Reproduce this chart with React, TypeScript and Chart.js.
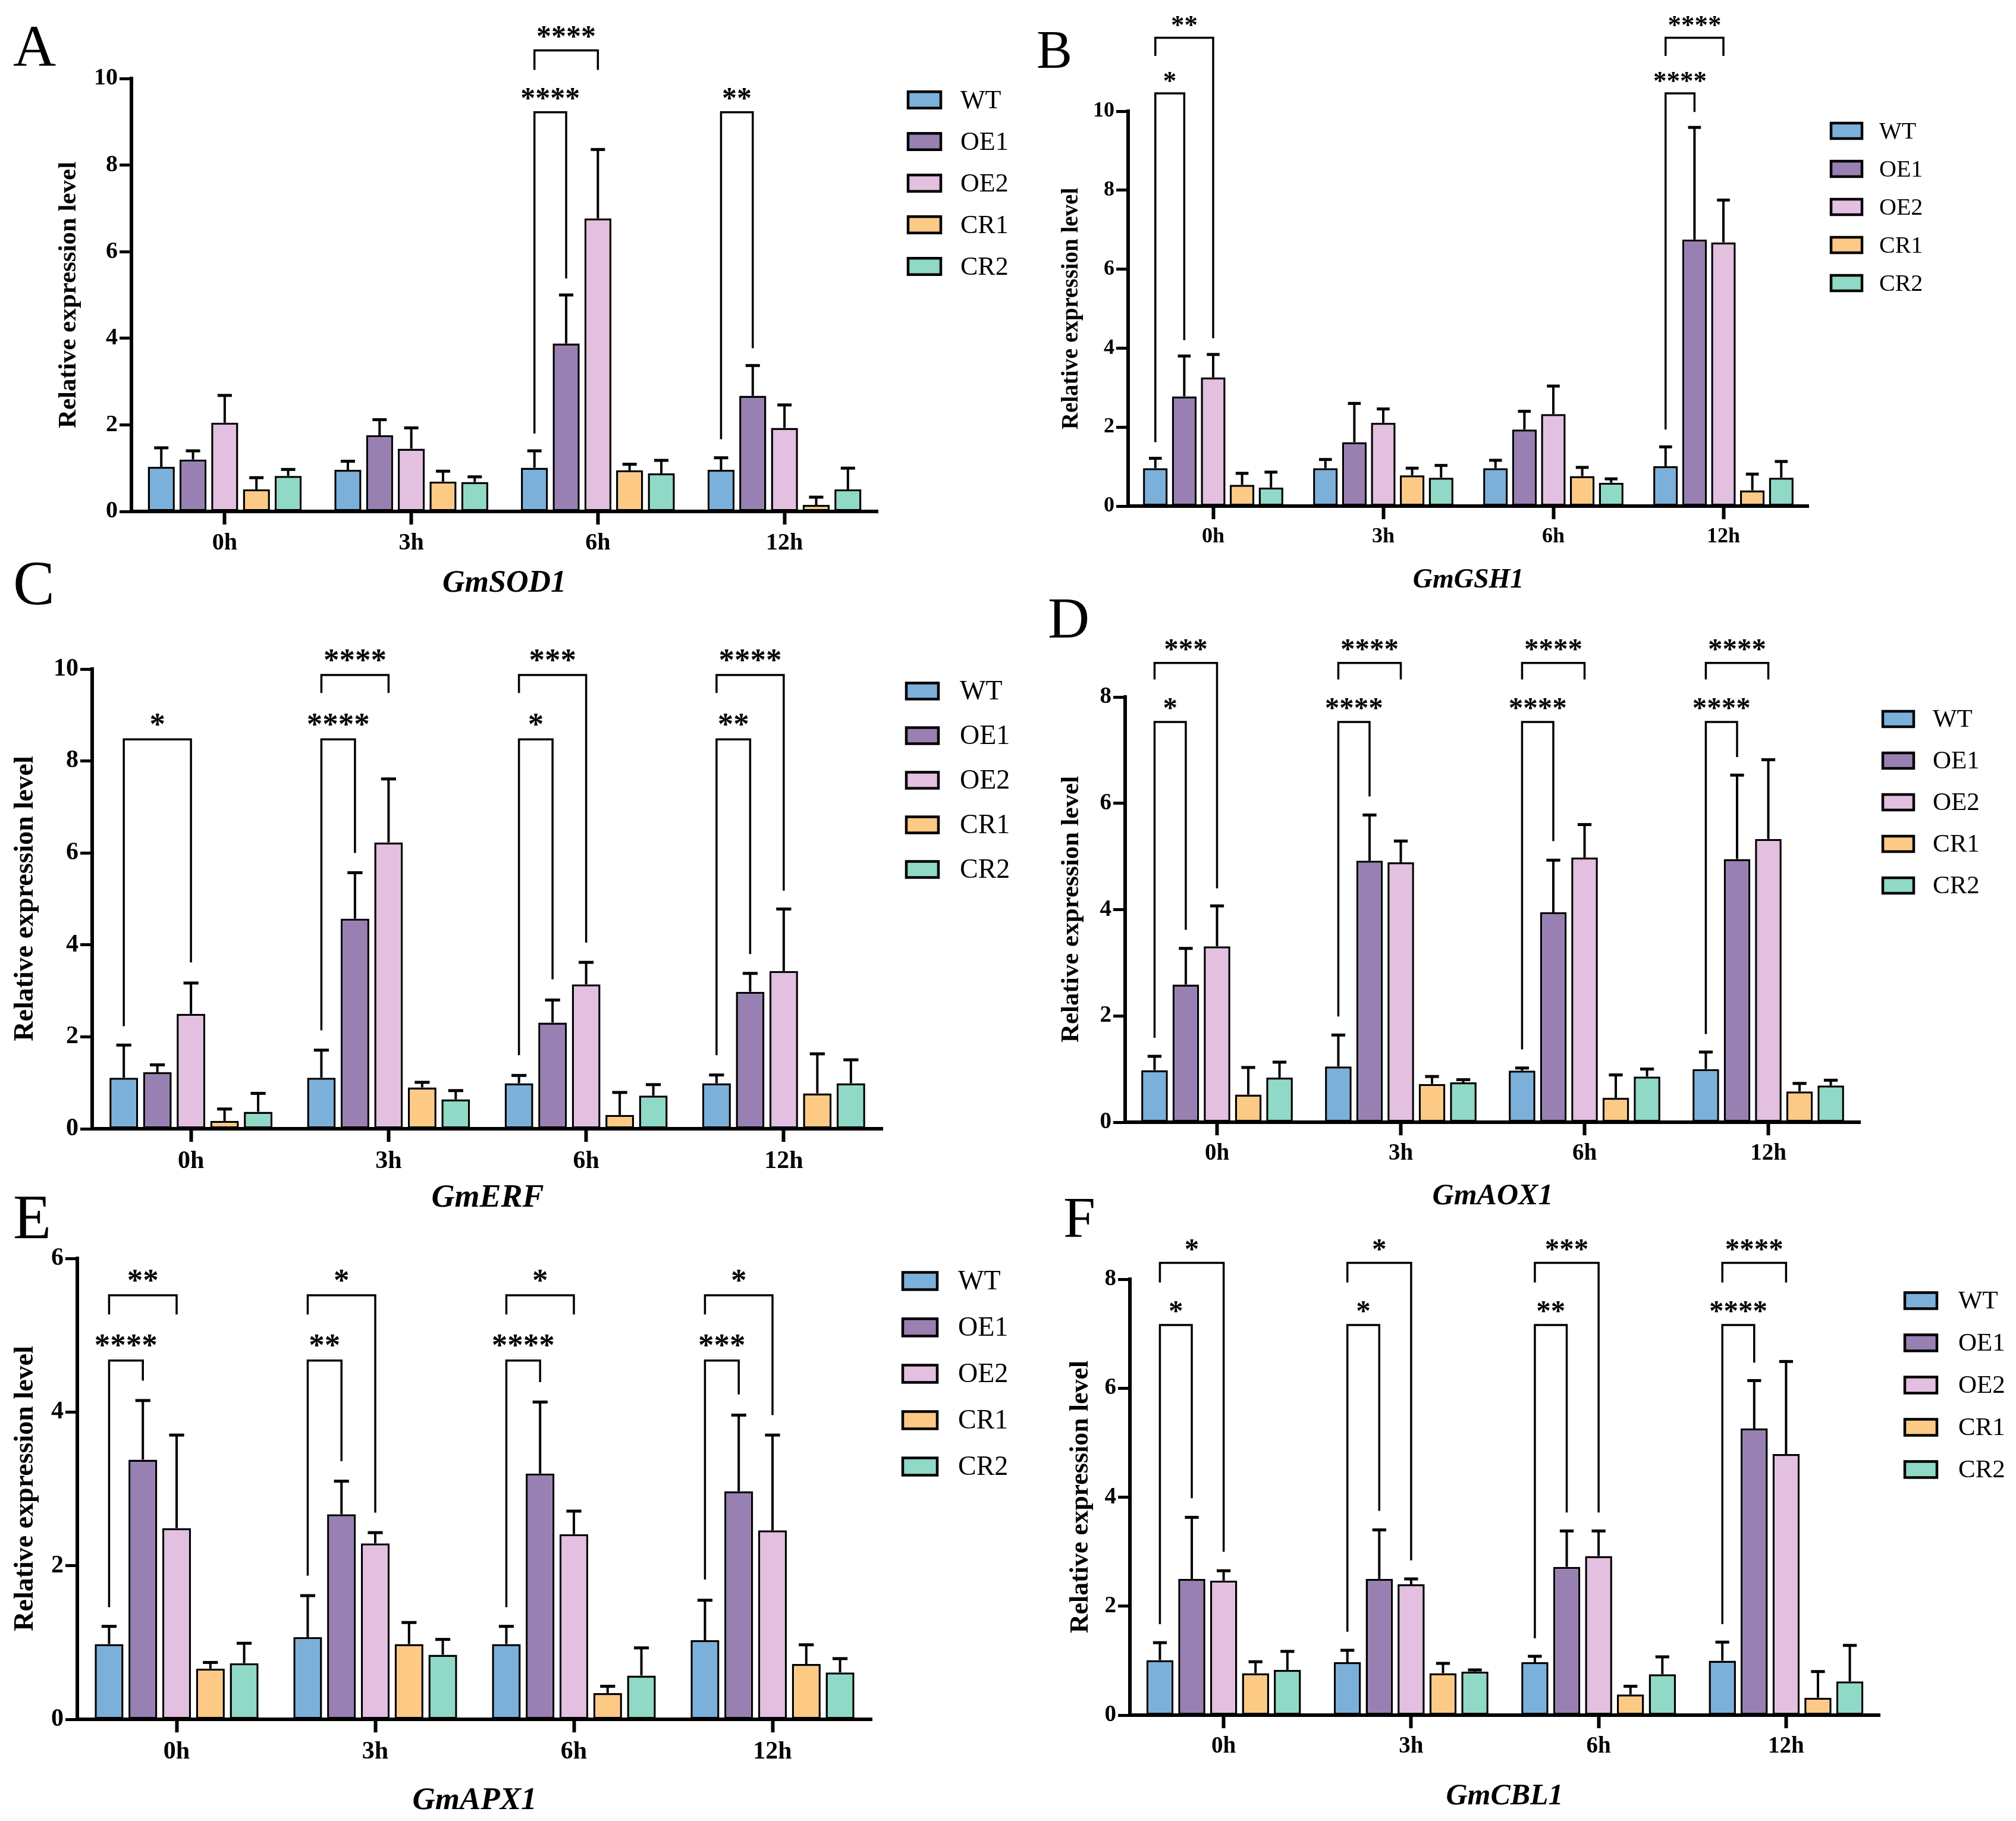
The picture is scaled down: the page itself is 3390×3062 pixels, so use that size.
import { useEffect, useRef } from 'react';
import { Chart, registerables } from 'chart.js';

Chart.register(...registerables);

const TIMES = ['0h', '3h', '6h', '12h'];
const LINES = ['WT', 'OE1', 'OE2', 'CR1', 'CR2'];
const COLORS = ['#7BB0DB', '#9880B3', '#E3BFE0', '#FDCA86', '#8FD9C6'];

// rows: WT, OE1, OE2, CR1, CR2 ; columns: 0h, 3h, 6h, 12h
const SOD1_MEAN = [
  [1.03, 0.96, 1.01, 0.96],
  [1.2, 1.76, 3.88, 2.67],
  [2.05, 1.45, 6.77, 1.93],
  [0.51, 0.69, 0.95, 0.15],
  [0.82, 0.68, 0.88, 0.51],
];
const SOD1_SD = [
  [0.44, 0.2, 0.39, 0.28],
  [0.2, 0.36, 1.12, 0.7],
  [0.63, 0.48, 1.59, 0.53],
  [0.27, 0.24, 0.14, 0.18],
  [0.15, 0.12, 0.3, 0.49],
];
// [time index, series a, series b, bracket level, left leg end, right leg end, label]
const SOD1_SIG = [
  [2, 0, 1, 9.22, 1.8, 5.38, '****'],
  [2, 0, 2, 10.65, 10.2, 10.2, '****'],
  [3, 0, 1, 9.22, 1.67, 3.77, '**'],
];

const GSH1_MEAN = [
  [0.96, 0.96, 0.96, 1.01],
  [2.78, 1.62, 1.94, 6.75],
  [3.26, 2.11, 2.33, 6.68],
  [0.54, 0.78, 0.76, 0.4],
  [0.47, 0.72, 0.59, 0.72],
];
const GSH1_SD = [
  [0.25, 0.22, 0.2, 0.49],
  [1.02, 0.98, 0.46, 2.84],
  [0.58, 0.35, 0.71, 1.07],
  [0.29, 0.18, 0.22, 0.41],
  [0.39, 0.31, 0.1, 0.41],
];
const GSH1_SIG = [
  [0, 0, 1, 10.45, 1.62, 4.2, '*'],
  [0, 0, 2, 11.86, 11.4, 4.25, '**'],
  [3, 0, 1, 10.45, 1.94, 9.98, '****'],
  [3, 0, 2, 11.86, 11.4, 11.4, '****'],
];

const ERF_MEAN = [
  [1.11, 1.11, 0.99, 0.99],
  [1.23, 4.57, 2.31, 2.98],
  [2.5, 6.23, 3.14, 3.43],
  [0.17, 0.9, 0.3, 0.77],
  [0.37, 0.64, 0.72, 0.99],
];
const ERF_SD = [
  [0.71, 0.6, 0.17, 0.18],
  [0.16, 1.0, 0.49, 0.4],
  [0.67, 1.38, 0.48, 1.35],
  [0.26, 0.11, 0.49, 0.86],
  [0.4, 0.19, 0.24, 0.51],
];
const ERF_SIG = [
  [0, 0, 2, 8.47, 2.23, 3.62, '*'],
  [1, 0, 1, 8.47, 2.14, 6.0, '****'],
  [1, 0, 2, 9.87, 9.48, 9.48, '****'],
  [2, 0, 1, 8.47, 1.6, 3.25, '*'],
  [2, 0, 2, 9.87, 9.48, 4.05, '***'],
  [3, 0, 1, 8.47, 1.6, 3.8, '**'],
  [3, 0, 2, 9.87, 9.48, 5.18, '****'],
];

const AOX1_MEAN = [
  [0.98, 1.05, 0.97, 1.0],
  [2.59, 4.92, 3.95, 4.95],
  [3.31, 4.89, 4.98, 5.33],
  [0.52, 0.72, 0.46, 0.58],
  [0.84, 0.75, 0.86, 0.69],
];
const AOX1_SD = [
  [0.26, 0.59, 0.05, 0.32],
  [0.68, 0.86, 0.98, 1.58],
  [0.76, 0.4, 0.62, 1.49],
  [0.51, 0.14, 0.43, 0.15],
  [0.29, 0.05, 0.14, 0.1],
];
const AOX1_SIG = [
  [0, 0, 1, 7.53, 1.59, 3.62, '*'],
  [0, 0, 2, 8.64, 8.33, 4.4, '***'],
  [1, 0, 1, 7.53, 1.99, 6.13, '****'],
  [1, 0, 2, 8.64, 8.33, 8.33, '****'],
  [2, 0, 1, 7.53, 1.37, 5.29, '****'],
  [2, 0, 2, 8.64, 8.33, 8.33, '****'],
  [3, 0, 1, 7.53, 1.66, 6.87, '****'],
  [3, 0, 2, 8.64, 8.33, 8.33, '****'],
];

const APX1_MEAN = [
  [0.98, 1.07, 0.98, 1.03],
  [3.38, 2.67, 3.2, 2.97],
  [2.49, 2.29, 2.41, 2.46],
  [0.66, 0.98, 0.34, 0.72],
  [0.73, 0.84, 0.57, 0.61],
];
const APX1_SD = [
  [0.23, 0.54, 0.23, 0.52],
  [0.77, 0.43, 0.93, 0.99],
  [1.21, 0.14, 0.3, 1.24],
  [0.08, 0.28, 0.09, 0.25],
  [0.26, 0.2, 0.36, 0.18],
];
const APX1_SIG = [
  [0, 0, 1, 4.67, 1.46, 4.41, '****'],
  [0, 0, 2, 5.52, 5.27, 5.27, '**'],
  [1, 0, 1, 4.67, 1.87, 3.36, '**'],
  [1, 0, 2, 5.52, 5.27, 2.69, '*'],
  [2, 0, 1, 4.67, 1.46, 4.39, '****'],
  [2, 0, 2, 5.52, 5.27, 5.27, '*'],
  [3, 0, 1, 4.67, 1.82, 4.23, '***'],
  [3, 0, 2, 5.52, 5.27, 3.96, '*'],
];

const CBL1_MEAN = [
  [1.01, 0.97, 0.97, 1.0],
  [2.5, 2.5, 2.72, 5.26],
  [2.47, 2.4, 2.92, 4.79],
  [0.77, 0.77, 0.38, 0.32],
  [0.83, 0.8, 0.75, 0.62],
];
const CBL1_SD = [
  [0.32, 0.22, 0.11, 0.34],
  [1.13, 0.9, 0.66, 0.88],
  [0.18, 0.1, 0.46, 1.7],
  [0.21, 0.18, 0.15, 0.48],
  [0.34, 0.03, 0.32, 0.66],
];
const CBL1_SIG = [
  [0, 0, 1, 7.16, 1.67, 3.98, '*'],
  [0, 0, 2, 8.3, 7.94, 3.0, '*'],
  [1, 0, 1, 7.16, 1.53, 3.75, '*'],
  [1, 0, 2, 8.3, 7.94, 2.84, '*'],
  [2, 0, 1, 7.16, 1.41, 3.72, '**'],
  [2, 0, 2, 8.3, 7.94, 3.72, '***'],
  [3, 0, 1, 7.16, 1.67, 6.47, '****'],
  [3, 0, 2, 8.3, 7.94, 7.94, '****'],
];

const Y_MAX = [10, 10, 10, 8, 6, 8];
const GENES = ['GmSOD1', 'GmGSH1', 'GmERF', 'GmAOX1', 'GmAPX1', 'GmCBL1'];
const LETTERS = ['A', 'B', 'C', 'D', 'E', 'F'];
const Y_TITLE = 'Relative expression level';

const MEANS = [SOD1_MEAN, GSH1_MEAN, ERF_MEAN, AOX1_MEAN, APX1_MEAN, CBL1_MEAN];
const SDS = [SOD1_SD, GSH1_SD, ERF_SD, AOX1_SD, APX1_SD, CBL1_SD];
const SIGS = [SOD1_SIG, GSH1_SIG, ERF_SIG, AOX1_SIG, APX1_SIG, CBL1_SIG];

// layout (absolute page pixels)
const LAYOUT = [
  { cv: [0, 0, 1700, 1020], area: [221, 1476, 132, 860], k: 1.0, letter: [22, 111], yt: [116, 496, 43], xt: [848, 982, 52], lg: [1527, 168, 70, 1615, 55] },
  { cv: [1690, 0, 1700, 1020], area: [1897, 3041, 187, 851], k: 0.9, letter: [1743, 114], yt: [1802, 519, 39], xt: [2469, 976, 46], lg: [3079, 220, 64, 3160, 52] },
  { cv: [0, 930, 1700, 1110], area: [155, 1484, 1125, 1898], k: 1.05, letter: [22, 1016], yt: [43, 1511, 46], xt: [820, 2015, 54], lg: [1524, 1162, 75, 1614, 54] },
  { cv: [1690, 990, 1700, 1050], area: [1892, 3128, 1172, 1887], k: 0.97, letter: [1762, 1072], yt: [1802, 1529, 43], xt: [2510, 2012, 50], lg: [3166, 1209, 70, 3250, 52] },
  { cv: [0, 1990, 1700, 1072], area: [130, 1466, 2116, 2891], k: 1.05, letter: [22, 2082], yt: [43, 2503, 46], xt: [798, 3028, 53], lg: [1518, 2154, 78, 1611, 58] },
  { cv: [1690, 1990, 1700, 1072], area: [1900, 3161, 2151, 2884], k: 0.97, letter: [1788, 2080], yt: [1818, 2517, 44], xt: [2530, 3021, 50], lg: [3203, 2187, 71, 3293, 54] },
];

const SERIF = '"Liberation Serif"';
const WY = 90;
const HX = 110;

function fontsReady(): Promise<unknown> {
  const d: any = document;
  if (!d.fonts || !d.fonts.load) return Promise.resolve();
  return Promise.all([
    d.fonts.load(`40px ${SERIF}`),
    d.fonts.load(`bold 40px ${SERIF}`),
    d.fonts.load(`italic bold 40px ${SERIF}`),
  ]).catch(() => undefined);
}

function Panel({ idx }: { idx: number }) {
  const ref = useRef<HTMLCanvasElement | null>(null);
  const L = LAYOUT[idx];
  const [px, py, pw, ph] = L.cv;
  useEffect(() => {
    const canvas = ref.current;
    if (!canvas) return;
    let chart: Chart | null = null;
    let dead = false;
    const [l, r, t, b] = L.area;
    const k = L.k;
    const mean = MEANS[idx];
    const sd = SDS[idx];
    const sig = SIGS[idx];

    const decor = {
      id: 'decor' + idx,
      afterDraw(ch: any) {
        const ctx = ch.ctx as CanvasRenderingContext2D;
        const ys = ch.scales.y;
        ctx.save();
        ctx.strokeStyle = '#000';
        ctx.fillStyle = '#000';
        ctx.lineCap = 'butt';
        // error bars
        const capW = 24 * k;
        for (let i = 0; i < LINES.length; i++) {
          const meta = ch.getDatasetMeta(i);
          meta.data.forEach((bar: any, j: number) => {
            const top = ys.getPixelForValue(mean[i][j] + sd[i][j]);
            ctx.lineWidth = 4;
            ctx.beginPath();
            ctx.moveTo(bar.x, bar.y);
            ctx.lineTo(bar.x, top);
            ctx.stroke();
            ctx.lineWidth = 5;
            ctx.beginPath();
            ctx.moveTo(bar.x - capW / 2, top);
            ctx.lineTo(bar.x + capW / 2, top);
            ctx.stroke();
          });
        }
        // significance brackets
        ctx.lineWidth = 3.5;
        ctx.lineJoin = 'miter';
        ctx.textAlign = 'center';
        ctx.textBaseline = 'alphabetic';
        ctx.font = `bold ${Math.round(50 * k)}px ${SERIF}`;
        sig.forEach((s: any[]) => {
          const [c, a, bb, lvl, la, lb, label] = s;
          const xa = ch.getDatasetMeta(a).data[c].x;
          const xb = ch.getDatasetMeta(bb).data[c].x;
          const yl = ys.getPixelForValue(lvl);
          ctx.beginPath();
          ctx.moveTo(xa, ys.getPixelForValue(la));
          ctx.lineTo(xa, yl);
          ctx.lineTo(xb, yl);
          ctx.lineTo(xb, ys.getPixelForValue(lb));
          ctx.stroke();
          ctx.fillText(label, (xa + xb) / 2, yl - 8 * k);
        });
        // y title
        const [ytx, yty, yts] = L.yt;
        ctx.save();
        ctx.translate(ytx - px, yty - py);
        ctx.rotate(-Math.PI / 2);
        ctx.font = `bold ${yts}px ${SERIF}`;
        ctx.textAlign = 'center';
        ctx.textBaseline = 'middle';
        ctx.fillText(Y_TITLE, 0, 0);
        ctx.restore();
        // x title
        const [xtx, xty, xts] = L.xt;
        ctx.font = `italic bold ${xts}px ${SERIF}`;
        ctx.textAlign = 'center';
        ctx.textBaseline = 'middle';
        ctx.fillText(GENES[idx], xtx - px, xty - py);
        // panel letter
        ctx.font = `${Math.round(100 * k)}px ${SERIF}`;
        ctx.textAlign = 'left';
        ctx.textBaseline = 'alphabetic';
        ctx.fillText(LETTERS[idx], L.letter[0] - px, L.letter[1] - py);
        // legend
        const [bx, by0, step, tx, bw] = L.lg;
        const bh = bw * 0.5;
        ctx.font = `${Math.round(44 * k)}px ${SERIF}`;
        ctx.textBaseline = 'middle';
        ctx.textAlign = 'left';
        LINES.forEach((name, i) => {
          const cy = by0 + i * step - py;
          const x0 = bx - px;
          ctx.fillStyle = COLORS[i];
          ctx.fillRect(x0, cy - bh / 2, bw, bh);
          ctx.lineWidth = 4.5;
          ctx.strokeStyle = '#000';
          ctx.strokeRect(x0, cy - bh / 2, bw, bh);
          ctx.fillStyle = '#000';
          ctx.fillText(name, tx - px, cy + 2);
        });
        ctx.restore();
      },
    };

    const tickFont = { family: SERIF, weight: 'bold' as const, size: Math.round(40 * k) };
    const make = () => {
      if (dead) return;
      chart = new Chart(canvas, {
        type: 'bar',
        data: {
          labels: TIMES,
          datasets: LINES.map((name, i) => ({
            label: name,
            data: mean[i],
            backgroundColor: COLORS[i],
            borderColor: '#000',
            borderWidth: 3.5,
            borderSkipped: false as any,
            categoryPercentage: 0.85,
            barPercentage: 0.85,
          })),
        },
        options: {
          responsive: false,
          animation: false,
          devicePixelRatio: 1,
          layout: {
            padding: {
              left: l - px - WY,
              top: t - py,
              right: px + pw - r,
              bottom: py + ph - b - HX,
            },
          },
          plugins: {
            legend: { display: false },
            tooltip: { enabled: false },
          },
          scales: {
            x: {
              type: 'category',
              offset: true,
              grid: {
                display: true,
                drawOnChartArea: false,
                offset: false,
                tickLength: 22,
                tickWidth: 6,
                tickColor: '#000',
              },
              border: { display: true, width: 6, color: '#000' },
              ticks: { font: tickFont, color: '#000', padding: 8, maxRotation: 0, autoSkip: false },
              afterFit: (s: any) => {
                s.height = HX;
              },
            },
            y: {
              min: 0,
              max: Y_MAX[idx],
              ticks: { stepSize: 2, font: tickFont, color: '#000', padding: 3 },
              grid: {
                display: true,
                drawOnChartArea: false,
                tickLength: 20,
                tickWidth: 5,
                tickColor: '#000',
              },
              border: { display: true, width: 6, color: '#000' },
              afterFit: (s: any) => {
                s.width = WY;
              },
            },
          },
        },
        plugins: [decor],
      });
    };
    fontsReady().then(make);
    return () => {
      dead = true;
      if (chart) chart.destroy();
    };
  }, [idx]);
  return (
    <canvas
      ref={ref}
      width={pw}
      height={ph}
      style={{ position: 'absolute', left: px, top: py, width: pw, height: ph }}
    />
  );
}

export default function App() {
  return (
    <div
      style={{
        position: 'absolute',
        left: 0,
        top: 0,
        width: 3390,
        height: 3062,
        background: '#fff',
        overflow: 'hidden',
      }}
    >
      <div style={{ position: 'absolute', left: 0, top: 0, opacity: 0, fontFamily: 'Liberation Serif', pointerEvents: 'none' }}>
        <span>Aa</span>
        <b>Bb</b>
        <i>
          <b>Cc</b>
        </i>
      </div>
      {LAYOUT.map((_, i) => (
        <Panel key={i} idx={i} />
      ))}
    </div>
  );
}
